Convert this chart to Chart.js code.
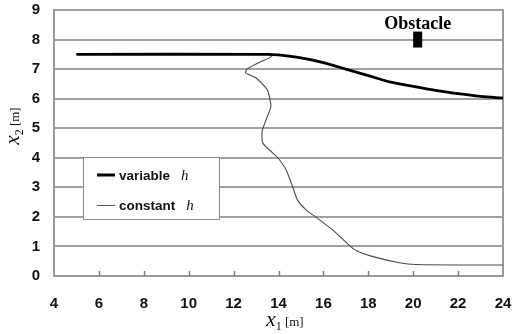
<!DOCTYPE html>
<html>
<head>
<meta charset="utf-8">
<script src="https://cdn.jsdelivr.net/npm/chart.js@4"></script>
<style>
  html, body { margin: 0; padding: 0; background: #fff; }
  canvas { display: block; }
</style>
</head>
<body>
<canvas id="chart" width="513" height="334"></canvas>
<script>
// path with variable h (thick black)
const varX = [5, 13.5, 14, 15, 16, 17, 18, 19, 20, 21, 22, 23, 24];
const varY = [7.5, 7.5, 7.48, 7.38, 7.22, 7.0, 6.78, 6.56, 6.42, 6.28, 6.17, 6.08, 6.02];

// path with constant h (thin)
const constX = [5, 13.5, 13.73, 13.6, 13.16, 12.6, 12.53, 13.0, 13.5, 13.66, 13.45, 13.27, 13.3, 13.75, 13.97, 14.34, 14.6, 14.86, 15.23, 15.67, 16.41, 17.16, 17.5, 18.34, 19.38, 20.1, 24];
const constY = [7.5, 7.5, 7.48, 7.38, 7.23, 7.0, 6.87, 6.7, 6.3, 5.74, 5.29, 4.89, 4.5, 4.16, 4.0, 3.59, 3.08, 2.55, 2.24, 1.99, 1.56, 1.03, 0.85, 0.63, 0.45, 0.39, 0.37];

// obstacle block
const obstacleX = [20.2, 20.2];
const obstacleY = [7.73, 8.27];

const xTicks = [4, 6, 8, 10, 12, 14, 16, 18, 20, 22, 24];
const yTicks = [0, 1, 2, 3, 4, 5, 6, 7, 8, 9];

const toPoints = (xs, ys) => xs.map((x, i) => ({ x: x, y: ys[i] }));

const SANS = '"Liberation Sans", Arial, sans-serif';
const SERIF = '"Liberation Serif", "Times New Roman", serif';

// draws text pieces one after another: [text, font, dy, gapAfter]
const drawPieces = (ctx, pieces, x, y) => {
  let cx = x;
  pieces.forEach(([t, f, dy, gap]) => {
    ctx.font = f;
    ctx.fillText(t, cx, y + (dy || 0));
    cx += ctx.measureText(t).width + (gap || 0);
  });
};

const piecesWidth = (ctx, pieces) => {
  let w = 0;
  pieces.forEach(([t, f, dy, gap]) => { ctx.font = f; w += ctx.measureText(t).width + (gap || 0); });
  return w;
};

const extras = {
  id: 'extras',
  beforeDatasetsDraw(chart) {
    const ctx = chart.ctx;
    const xs = chart.scales.x;
    const a = chart.chartArea;
    ctx.save();
    ctx.strokeStyle = '#9a9a9a';
    ctx.lineWidth = 2;
    // right border
    ctx.beginPath();
    ctx.moveTo(a.right, a.top - 1);
    ctx.lineTo(a.right, a.bottom);
    ctx.stroke();
    // inner tick marks on x axis
    ctx.lineWidth = 1.5;
    ctx.strokeStyle = '#808080';
    xTicks.slice(1, -1).forEach(v => {
      const px = Math.round(xs.getPixelForValue(v)) + 0.5;
      ctx.beginPath();
      ctx.moveTo(px, a.bottom);
      ctx.lineTo(px, a.bottom - 5);
      ctx.stroke();
    });
    ctx.restore();
  },
  afterDatasetsDraw(chart) {
    const ctx = chart.ctx;
    const xs = chart.scales.x;
    const ys = chart.scales.y;
    ctx.save();
    ctx.fillStyle = '#000';
    ctx.textBaseline = 'alphabetic';

    // obstacle label
    ctx.font = 'bold 18px ' + SERIF;
    ctx.textAlign = 'center';
    ctx.fillText('Obstacle', xs.getPixelForValue(20.2), ys.getPixelForValue(8.57) + 6);
    ctx.textAlign = 'left';

    // legend box
    ctx.fillStyle = '#fff';
    ctx.fillRect(83, 157, 136, 62);
    ctx.strokeStyle = '#888';
    ctx.lineWidth = 1;
    ctx.strokeRect(83.5, 157.5, 136, 62);

    ctx.strokeStyle = '#000';
    ctx.lineWidth = 3;
    ctx.beginPath();
    ctx.moveTo(97, 175);
    ctx.lineTo(115, 175);
    ctx.stroke();
    ctx.strokeStyle = '#555';
    ctx.lineWidth = 1;
    ctx.beginPath();
    ctx.moveTo(97, 205.5);
    ctx.lineTo(115, 205.5);
    ctx.stroke();

    ctx.fillStyle = '#111';
    drawPieces(ctx, [['variable', 'bold 13.5px ' + SANS, 0, 11], ['h', 'italic 15px ' + SERIF]], 119, 180);
    drawPieces(ctx, [['constant', 'bold 13.5px ' + SANS, 0, 11], ['h', 'italic 15px ' + SERIF]], 119, 210);

    // axis titles
    const xt = [['x', 'italic 21px ' + SERIF], ['1', '12px ' + SERIF, 4], [' [m]', '13px ' + SERIF]];
    drawPieces(ctx, xt, 285 - piecesWidth(ctx, xt) / 2, 326);

    const yt = [['x', 'italic 21px ' + SERIF], ['2', '12px ' + SERIF, 4], [' [m]', '13px ' + SERIF]];
    ctx.translate(19, 126);
    ctx.rotate(-Math.PI / 2);
    drawPieces(ctx, yt, -piecesWidth(ctx, yt) / 2, 0);
    ctx.restore();
  }
};

new Chart(document.getElementById('chart'), {
  type: 'scatter',
  data: {
    datasets: [
      {
        label: 'variable h',
        data: toPoints(varX, varY),
        showLine: true,
        borderColor: '#000',
        borderWidth: 2.8,
        pointRadius: 0,
        tension: 0.3
      },
      {
        label: 'constant h',
        data: toPoints(constX, constY),
        showLine: true,
        borderColor: '#4a4a4a',
        borderWidth: 1.1,
        pointRadius: 0,
        tension: 0.2
      },
      {
        label: 'Obstacle',
        data: toPoints(obstacleX, obstacleY),
        showLine: true,
        borderColor: '#000',
        borderWidth: 9,
        borderCapStyle: 'butt',
        pointRadius: 0
      }
    ]
  },
  options: {
    responsive: false,
    devicePixelRatio: 1,
    animation: false,
    layout: { padding: { left: 0, right: 0, top: 0, bottom: 0 } },
    plugins: {
      legend: { display: false },
      tooltip: { enabled: false }
    },
    scales: {
      x: {
        type: 'linear',
        min: 4,
        max: 24,
        afterFit: (s) => { s.height = 58; s.paddingRight = 10; s.paddingLeft = 0; },
        afterBuildTicks: (s) => { s.ticks = xTicks.map(v => ({ value: v })); },
        grid: { display: false, drawTicks: false },
        border: { display: true, color: '#9a9a9a', width: 2 },
        ticks: {
          padding: 19,
          color: '#111',
          font: { family: SANS, size: 15, weight: 'bold' }
        }
      },
      y: {
        min: 0,
        max: 9,
        afterFit: (s) => { s.width = 54; s.paddingTop = 10; s.paddingBottom = 0; },
        afterBuildTicks: (s) => { s.ticks = yTicks.map(v => ({ value: v })); },
        grid: { color: '#a0a0a0', lineWidth: 2, drawTicks: false },
        border: { display: true, color: '#9a9a9a', width: 2 },
        ticks: {
          padding: 14,
          color: '#111',
          font: { family: SANS, size: 15, weight: 'bold' }
        }
      }
    }
  },
  plugins: [extras]
});
</script>
</body>
</html>
